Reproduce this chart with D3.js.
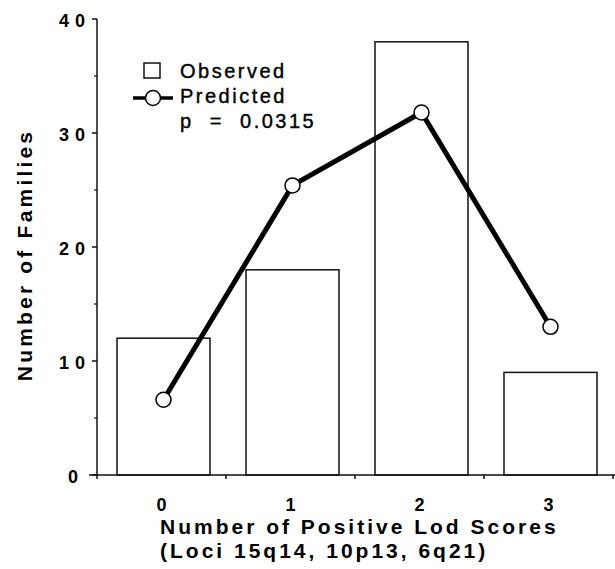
<!DOCTYPE html>
<html>
<head>
<meta charset="utf-8">
<script src="https://cdn.jsdelivr.net/npm/d3@7"></script>
<style>
  body { margin: 0; background: #fff; }
  svg { display: block; font-family: "Liberation Sans", Arial, sans-serif; }
</style>
</head>
<body>
<div id="chart-area"></div>
<script>
// DATA
var categories = [0, 1, 2, 3];
var observed = [12, 18, 38, 9];
var predicted = [6.6, 25.4, 31.8, 13.0];
var yTicks = [0, 10, 20, 30, 40];
var yMinorTicks = [5, 15, 25, 35];
var xBoundaries = [-0.5, 0.5, 1.5, 2.5, 3.5];

var width = 615, height = 569;

var svg = d3.select("#chart-area")
    .append("svg")
    .attr("width", width)
    .attr("height", height);

// SCALES
var x = d3.scaleLinear().domain([-0.5, 3.5]).range([97, 613]);
var y = d3.scaleLinear().domain([0, 40]).range([475, 19]);
var barW = 93;

// BARS (observed)
svg.selectAll("rect.bar")
    .data(observed)
    .enter()
    .append("rect")
    .attr("class", "bar")
    .attr("x", function (d, i) { return x(categories[i]) - barW / 2 + 2 })
    .attr("y", function (d) { return y(d) })
    .attr("width", barW)
    .attr("height", function (d) { return y(0) - y(d) })
    .attr("fill", "#fff")
    .attr("stroke", "#111")
    .attr("stroke-width", 1.5);

// Y AXIS
svg.append("line")
    .attr("x1", 97).attr("x2", 97)
    .attr("y1", y(40)).attr("y2", y(0))
    .attr("stroke", "#111").attr("stroke-width", 1.5);

svg.selectAll("line.ytick")
    .data(yTicks)
    .enter()
    .append("line")
    .attr("x1", 92).attr("x2", 97)
    .attr("y1", function (d) { return y(d) })
    .attr("y2", function (d) { return y(d) })
    .attr("stroke", "#111").attr("stroke-width", 1.5);

svg.selectAll("line.yminor")
    .data(yMinorTicks)
    .enter()
    .append("line")
    .attr("x1", 94).attr("x2", 97)
    .attr("y1", function (d) { return y(d) })
    .attr("y2", function (d) { return y(d) })
    .attr("stroke", "#111").attr("stroke-width", 1.2);

svg.selectAll("text.ylab")
    .data(yTicks)
    .enter()
    .append("text")
    .attr("x", function (d) { return d === 0 ? 84 : 91 })
    .attr("y", function (d) { return y(d) + 8 })
    .attr("text-anchor", "end")
    .attr("font-size", "18px")
    .attr("font-weight", "bold")
    .attr("letter-spacing", "6px")
    .text(function (d) { return d });

// X AXIS
svg.append("line")
    .attr("x1", 89).attr("x2", 615)
    .attr("y1", y(0)).attr("y2", y(0))
    .attr("stroke", "#111").attr("stroke-width", 1.5);

svg.selectAll("line.xtick")
    .data(xBoundaries)
    .enter()
    .append("line")
    .attr("x1", function (d) { return x(d) })
    .attr("x2", function (d) { return x(d) })
    .attr("y1", y(0)).attr("y2", y(0) + 4)
    .attr("stroke", "#111").attr("stroke-width", 1.5);

svg.selectAll("text.xlab")
    .data(categories)
    .enter()
    .append("text")
    .attr("x", function (d) { return x(d) })
    .attr("y", 511)
    .attr("text-anchor", "middle")
    .attr("font-size", "18px")
    .attr("font-weight", "bold")
    .text(function (d) { return d });

// PREDICTED LINE
var line = d3.line()
    .x(function (d, i) { return x(categories[i]) + 2 })
    .y(function (d) { return y(d) });

svg.append("path")
    .datum(predicted)
    .attr("d", line)
    .attr("fill", "none")
    .attr("stroke", "#000")
    .attr("stroke-width", 5);

svg.selectAll("circle.pt")
    .data(predicted)
    .enter()
    .append("circle")
    .attr("cx", function (d, i) { return x(categories[i]) + 2 })
    .attr("cy", function (d) { return y(d) })
    .attr("r", 7.5)
    .attr("fill", "#fff")
    .attr("stroke", "#000")
    .attr("stroke-width", 1.5);

// LEGEND
svg.append("rect")
    .attr("x", 144).attr("y", 63)
    .attr("width", 16).attr("height", 15)
    .attr("fill", "#fff").attr("stroke", "#111").attr("stroke-width", 1.5);
svg.append("line")
    .attr("x1", 133).attr("x2", 173)
    .attr("y1", 98).attr("y2", 98)
    .attr("stroke", "#000").attr("stroke-width", 3.5);
svg.append("circle")
    .attr("cx", 153).attr("cy", 98).attr("r", 7.5)
    .attr("fill", "#fff").attr("stroke", "#000").attr("stroke-width", 1.5);

var legendText = ["Observed", "Predicted", "p  =  0.0315"];
svg.selectAll("text.leg")
    .data(legendText)
    .enter()
    .append("text")
    .attr("x", 180)
    .attr("y", function (d, i) { return 78 + i * 25 })
    .attr("font-size", "20px")
    .attr("letter-spacing", "2.5px")
    .attr("fill", "#000")
    .attr("stroke", "#000")
    .attr("stroke-width", 0.4)
    .style("white-space", "pre")
    .text(function (d) { return d });

// AXIS TITLES
svg.append("text")
    .attr("transform", "translate(32,255) rotate(-90)")
    .attr("text-anchor", "middle")
    .attr("font-size", "21px")
    .attr("font-weight", "bold")
    .attr("letter-spacing", "3.2px")
    .text("Number of Families");

svg.append("text")
    .attr("x", 160)
    .attr("y", 534)
    .attr("font-size", "21px")
    .attr("font-weight", "bold")
    .attr("letter-spacing", "3px")
    .text("Number of Positive Lod Scores");

svg.append("text")
    .attr("x", 160)
    .attr("y", 558)
    .attr("font-size", "21px")
    .attr("font-weight", "bold")
    .attr("letter-spacing", "3px")
    .text("(Loci 15q14, 10p13, 6q21)");
</script>
</body>
</html>
